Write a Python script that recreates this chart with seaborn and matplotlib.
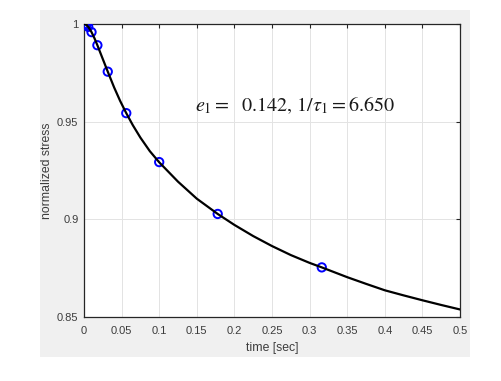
import matplotlib
matplotlib.use("Agg")
import matplotlib.pyplot as plt
from matplotlib.patches import Rectangle
import seaborn as sns

# measured data points (blue circles)
data_t = [0.001, 0.0018, 0.0032, 0.0056, 0.0100, 0.0178, 0.0316, 0.0562, 0.1000, 0.1778, 0.3162]
data_v = [0.9999, 0.9997, 0.9993, 0.9984, 0.9957, 0.9890, 0.9755, 0.9543, 0.9293, 0.9028, 0.8755]

# fitted curve
fit_t = [0.0, 0.003, 0.006, 0.010, 0.014, 0.018, 0.023, 0.0316, 0.040, 0.048, 0.0562,
         0.065, 0.075, 0.0875, 0.100, 0.125, 0.150, 0.1778, 0.200, 0.225, 0.250,
         0.275, 0.300, 0.3162, 0.350, 0.375, 0.400, 0.425, 0.450, 0.475, 0.500]
fit_v = [1.0, 0.9994, 0.9982, 0.9957, 0.9925, 0.9888, 0.9839, 0.9755, 0.9675, 0.9606, 0.9543,
         0.9481, 0.9418, 0.9349, 0.9292, 0.9193, 0.9106, 0.9028, 0.8972, 0.8915, 0.8864,
         0.8818, 0.8778, 0.8755, 0.8705, 0.8671, 0.8638, 0.8612, 0.8587, 0.8563, 0.8540]

x_ticks = [0, 0.05, 0.1, 0.15, 0.2, 0.25, 0.3, 0.35, 0.4, 0.45, 0.5]
y_ticks = [0.85, 0.9, 0.95, 1.0]
annotation = r"$e_1 =\ \ 0.142,\, 1/\tau_1 = 6.650$"

sns.set_style("white")
plt.rcParams["font.family"] = ["Liberation Sans", "DejaVu Sans"]
plt.rcParams["mathtext.fontset"] = "stix"

fig = plt.figure(figsize=(5.02, 3.81), dpi=100)
fig.patch.set_facecolor("white")
# matlab-like grey figure panel
fig.patches.append(Rectangle((40 / 502, 1 - 357 / 381), 430 / 502, 347 / 381,
                             transform=fig.transFigure, facecolor="#f0f0f0",
                             edgecolor="none", zorder=-10))

ax = fig.add_axes([84 / 502, 1 - 317.3 / 381, 376 / 502, 293.6 / 381])
ax.set_zorder(1)
ax.set_facecolor("white")

sns.scatterplot(x=data_t, y=data_v, ax=ax, marker="o", s=36,
                facecolor="none", edgecolor="blue", linewidth=1.4, zorder=3)
sns.lineplot(x=fit_t, y=fit_v, ax=ax, color="black", linewidth=1.6,
             sort=False, estimator=None, zorder=4)

ax.set_xlim(0, 0.5)
ax.set_ylim(0.85, 1.0)
ax.set_xticks(x_ticks)
ax.set_yticks(y_ticks)
ax.set_xticklabels([f"{v:g}" for v in x_ticks])
ax.set_yticklabels([f"{v:g}" for v in y_ticks])
ax.grid(True, color="#e3e3e3", linewidth=0.7)
ax.set_axisbelow(True)
ax.tick_params(direction="in", length=3, width=0.8, colors="#262626",
               labelcolor="#3c3c3c", labelsize=8, top=True, right=True, pad=4)
ax.tick_params(axis="x", pad=6.5)
for sp in ax.spines.values():
    sp.set_color("#262626")
    sp.set_linewidth(0.9)
    sp.set_visible(True)

ax.set_xlabel("time [sec]", fontsize=8.8, color="#3c3c3c", labelpad=4)
ax.set_ylabel("normalized stress", fontsize=8.8, color="#3c3c3c", labelpad=3)

ax.text(0.1476, 0.9582, annotation, fontsize=14.5, color="#1a1a1a",
        ha="left", va="center")

fig.savefig("out.png", dpi=100, facecolor="white")
